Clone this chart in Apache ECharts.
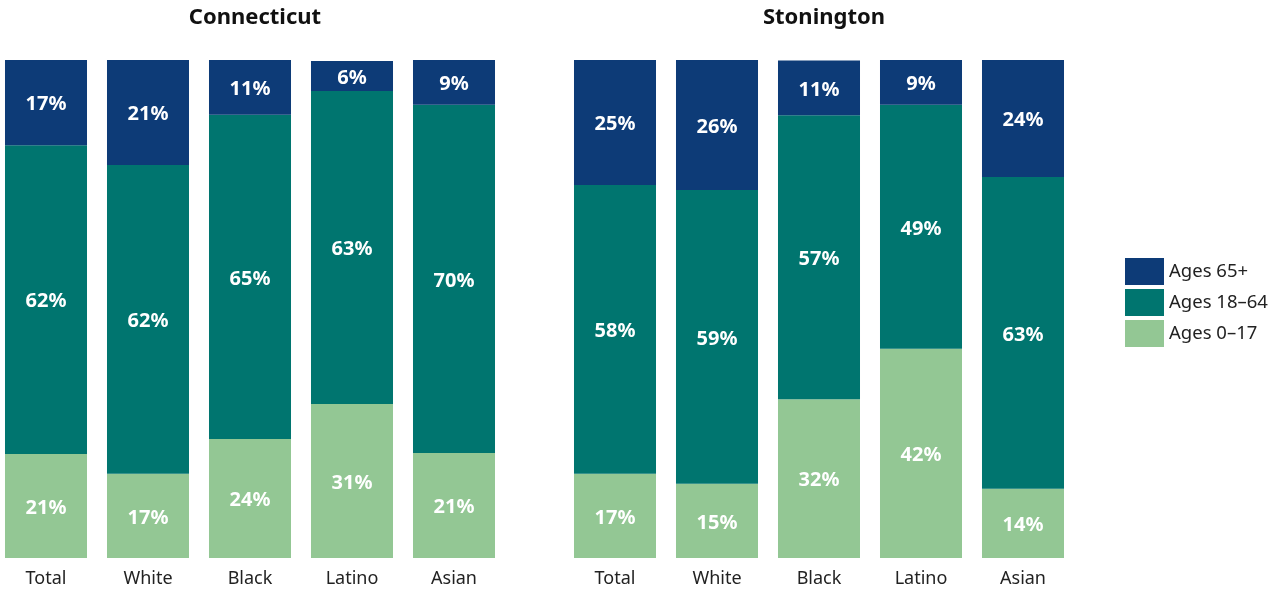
<!DOCTYPE html>
<html>
<head>
<meta charset="utf-8">
<script src="https://cdn.jsdelivr.net/npm/echarts@6/dist/echarts.min.js"></script>
<style>
  html, body { margin: 0; padding: 0; background: #fff; }
  #chart { width: 1269px; height: 592px; }
</style>
</head>
<body>
<div id="chart"></div>
<script>
const categories = ["Total", "White", "Black", "Latino", "Asian"];
const regions = ["Connecticut", "Stonington"];
const ageGroups = ["Ages 0\u201317", "Ages 18\u201364", "Ages 65+"];

// percent shares
const ctAges0to17 = [20.9, 16.9, 23.9, 30.9, 21.1];
const ctAges18to64 = [62.0, 62.0, 65.1, 62.9, 69.9];
const ctAges65plus = [17.1, 21.1, 11.0, 6.0, 9.0];

const stAges0to17 = [16.9, 14.9, 31.9, 42.0, 13.9];
const stAges18to64 = [58.0, 59.0, 57.0, 49.0, 62.6];
const stAges65plus = [25.1, 26.1, 11.0, 9.0, 23.6];

const colors = ["#93c794", "#00756f", "#0d3b77"];
const font = "'Source Sans Pro', 'Noto Sans', sans-serif";

let myChart = echarts.init(document.getElementById("chart"), null, { renderer: "canvas" });

function makeSeries(name, data, idx, color) {
  return {
    name: name,
    type: "bar",
    stack: "s" + idx,
    xAxisIndex: idx,
    yAxisIndex: idx,
    barCategoryGap: "19.6%",
    data: data,
    itemStyle: { color: color },
    label: {
      show: true,
      position: "inside",
      offset: [0, 2],
      color: "#fff",
      fontFamily: font,
      fontWeight: "bold",
      fontSize: 20,
      formatter: (p) => Math.round(p.value) + "%"
    }
  };
}

let option = {
  animation: false,
  title: [
    {
      text: regions[0], left: 250, top: 2, textAlign: "center",
      textStyle: { fontFamily: font, fontSize: 22, fontWeight: "bold", color: "#111" }
    },
    {
      text: regions[1], left: 819, top: 2, textAlign: "center",
      textStyle: { fontFamily: font, fontSize: 22, fontWeight: "bold", color: "#111" }
    }
  ],
  legend: {
    orient: "vertical",
    left: 1125,
    top: 258,
    padding: 0,
    itemWidth: 39,
    itemHeight: 27,
    itemGap: 4,
    icon: "rect",
    data: [ageGroups[2], ageGroups[1], ageGroups[0]],
    textStyle: { fontFamily: font, fontSize: 18.5, color: "#222" }
  },
  grid: [
    { left: -5, width: 510, top: 60, bottom: 34, outerBoundsMode: "none", containLabel: false },
    { left: 564, width: 510, top: 60, bottom: 34, outerBoundsMode: "none", containLabel: false }
  ],
  xAxis: [0, 1].map((i) => ({
    type: "category",
    gridIndex: i,
    data: categories,
    axisLine: { show: false },
    axisTick: { show: false },
    axisLabel: { fontFamily: font, fontSize: 18, color: "#222", margin: 12 }
  })),
  yAxis: [0, 1].map((i) => ({
    type: "value",
    gridIndex: i,
    min: 0,
    max: 100,
    show: false
  })),
  series: [
    makeSeries(ageGroups[0], ctAges0to17, 0, colors[0]),
    makeSeries(ageGroups[1], ctAges18to64, 0, colors[1]),
    makeSeries(ageGroups[2], ctAges65plus, 0, colors[2]),
    makeSeries(ageGroups[0], stAges0to17, 1, colors[0]),
    makeSeries(ageGroups[1], stAges18to64, 1, colors[1]),
    makeSeries(ageGroups[2], stAges65plus, 1, colors[2])
  ]
};

myChart.setOption(option);
window.addEventListener("resize", myChart.resize);
</script>
</body>
</html>
